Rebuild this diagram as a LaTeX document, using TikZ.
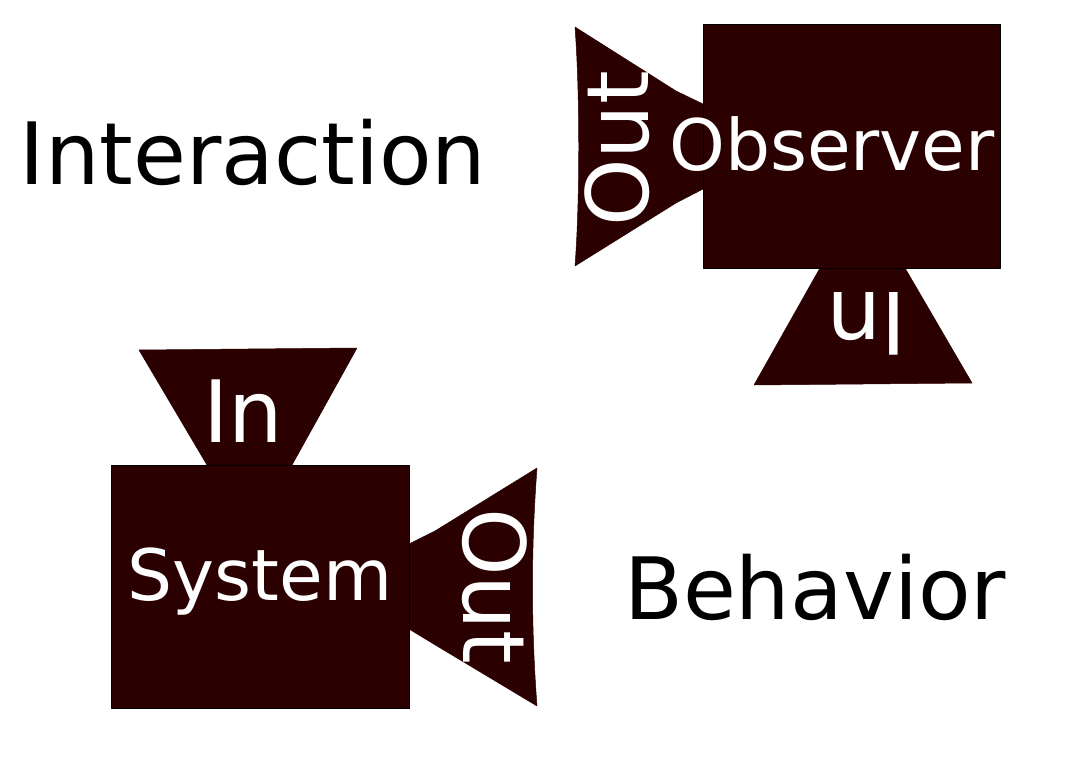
\documentclass[tikz,border=0pt]{standalone}
\usepackage{fontspec}
\setmainfont{DejaVu Sans}
\definecolor{darkmaroon}{RGB}{43,0,0}
\begin{document}
\begin{tikzpicture}[x=1pt,y=-1pt,
  shapefill/.style={fill=darkmaroon, draw=darkmaroon, line width=0.5pt, line join=round},
  box/.style={fill=darkmaroon, draw=black, line width=1pt, inner sep=0pt, outer sep=0pt},
  bigtext/.style={font=\fontsize{86}{86}\selectfont, inner sep=0pt, anchor=base},
  boxtext/.style={font=\fontsize{71}{71}\selectfont, inner sep=0pt, anchor=base, text=white},
  porttext/.style={font=\fontsize{86}{86}\selectfont, inner sep=0pt, anchor=base, text=white}
]
\useasboundingbox (0,0) rectangle (1080,760);

% Observer ports
\path[shapefill] (575,27) -- (676,91) -- (703,104) -- (703,189) -- (676,203) -- (575,266)
  .. controls (580,200) and (580,94) .. (575,27) -- cycle;
\path[shapefill] (820,268) -- (905,268) -- (972,383) -- (754,385) -- cycle;
% Observer box
\node[box, minimum width=297pt, minimum height=243pt] (obsbox) at (851.5,146.5) {};

% System ports
\path[shapefill] (139,350) -- (357,348) -- (292,465) -- (207,465) -- cycle;
\path[shapefill] (409,544) -- (435,531) -- (537,468)
  .. controls (531,548) and (531,626) .. (537,706) -- (437,646) -- (409,629) -- cycle;
% System box
\node[box, minimum width=298pt, minimum height=243pt] (sysbox) at (260,586.5) {};

% Labels
\node[bigtext] (interaction) at (253,184) {Interaction};
\node[bigtext] (behavior) at (815,619) {Behavior};
\node[boxtext] (observer) at (832,170) {Observer};
\node[boxtext] (system) at (260,600) {System};
\node[porttext, rotate=90] (obsout) at (648,149) {Out};
\node[porttext, rotate=180] (obsin) at (867,292) {In};
\node[porttext] (sysin) at (243,442) {In};
\node[porttext, rotate=-90] (sysout) at (463,586) {Out};
\end{tikzpicture}
\end{document}
